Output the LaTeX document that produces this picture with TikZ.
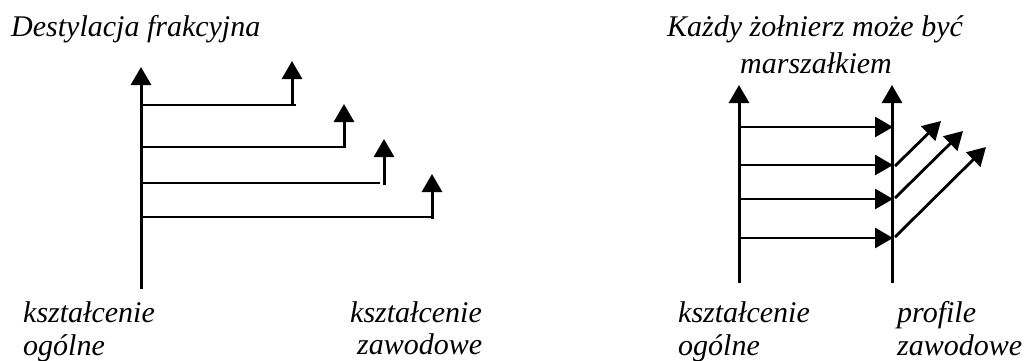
\documentclass[tikz,border=0pt]{standalone}
\usepackage{fontspec}
\setmainfont{Liberation Serif}
\usetikzlibrary{arrows.meta}
\tikzset{
  lbl/.style={inner sep=0pt, font=\fontsize{30}{33}\selectfont\itshape},
  head/.style={-{Triangle[width=20pt,length=18pt]}},
  axis/.style={line width=3pt, head},
  branch/.style={line width=2.4pt},
  rise/.style={line width=3pt, head},
  feed/.style={line width=2.8pt, head},
}
\begin{document}
\begin{tikzpicture}[x=1pt,y=-1pt]
\useasboundingbox (0,0) rectangle (1026,360);

% ---- Destylacja frakcyjna ----
\node[lbl, anchor=base west] (t1) at (11,36) {Destylacja frakcyjna};
\coordinate (a0) at (141,289);
\coordinate (a1) at (141,67);
\draw[axis] (a0) -- (a1);
% branches leaving the general-education trunk
\coordinate (b1s) at (141,105); \coordinate (b1e) at (296,105);
\coordinate (b2s) at (141,147); \coordinate (b2e) at (345,147);
\coordinate (b3s) at (141,183); \coordinate (b3e) at (380,183);
\coordinate (b4s) at (141,217); \coordinate (b4e) at (432,217);
\draw[branch] (b1s) -- (b1e);
\draw[branch] (b2s) -- (b2e);
\draw[branch] (b3s) -- (b3e);
\draw[branch] (b4s) -- (b4e);
% vocational offshoots
\coordinate (r1s) at (292,106); \coordinate (r1e) at (292,61);
\coordinate (r2s) at (344,148); \coordinate (r2e) at (344,104);
\coordinate (r3s) at (384,185); \coordinate (r3e) at (384,139);
\coordinate (r4s) at (432,219); \coordinate (r4e) at (432,174);
\draw[rise] (r1s) -- (r1e);
\draw[rise] (r2s) -- (r2e);
\draw[rise] (r3s) -- (r3e);
\draw[rise] (r4s) -- (r4e);
\node[lbl, anchor=base west] (k1) at (23,322) {kształcenie};
\node[lbl, anchor=base west] (o1) at (23,355) {ogólne};
\node[lbl, anchor=base west] (k2) at (350,322) {kształcenie};
\node[lbl, anchor=base west] (z2) at (357,354) {zawodowe};

% ---- Każdy żołnierz może być marszałkiem ----
\node[lbl, anchor=base] (t2) at (815,36) {Każdy żołnierz może być};
\node[lbl, anchor=base] (t3) at (816,73) {marszałkiem};
\coordinate (g0) at (739,283); \coordinate (g1) at (739,85);
\coordinate (p0) at (892,283); \coordinate (p1) at (892,85);
\draw[axis] (g0) -- (g1);
\draw[axis] (p0) -- (p1);
\coordinate (h1s) at (739,127); \coordinate (h1e) at (893,127);
\coordinate (h2s) at (739,165); \coordinate (h2e) at (893,165);
\coordinate (h3s) at (739,199); \coordinate (h3e) at (893,199);
\coordinate (h4s) at (739,238); \coordinate (h4e) at (893,238);
\draw[feed] (h1s) -- (h1e);
\draw[feed] (h2s) -- (h2e);
\draw[feed] (h3s) -- (h3e);
\draw[feed] (h4s) -- (h4e);
\coordinate (d1s) at (895,166); \coordinate (d1e) at (941,121);
\coordinate (d2s) at (895,198); \coordinate (d2e) at (963,131);
\coordinate (d3s) at (895,237); \coordinate (d3e) at (986,147);
\draw[feed] (d1s) -- (d1e);
\draw[feed] (d2s) -- (d2e);
\draw[feed] (d3s) -- (d3e);
\node[lbl, anchor=base west] (k3) at (678,322) {kształcenie};
\node[lbl, anchor=base west] (o3) at (678,355) {ogólne};
\node[lbl, anchor=base west] (p3) at (897,322) {profile};
\node[lbl, anchor=base west] (z3) at (897,355) {zawodowe};
\end{tikzpicture}
\end{document}
